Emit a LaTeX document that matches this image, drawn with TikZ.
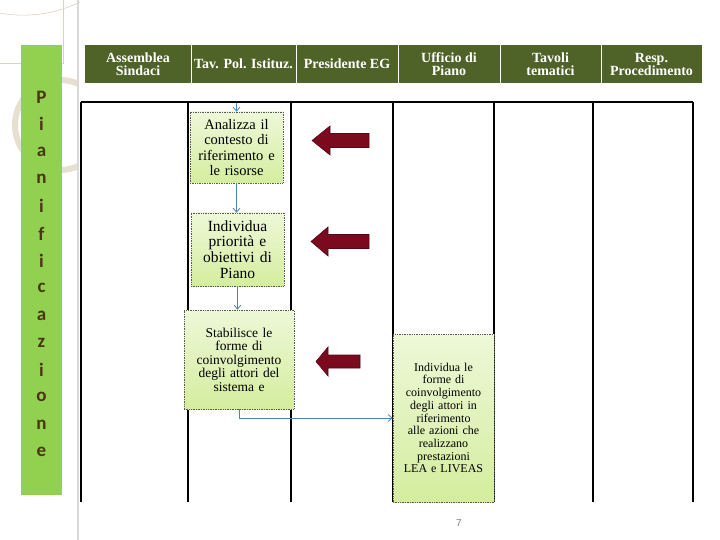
\documentclass[tikz,border=0pt]{standalone}
\usepackage{fontspec}
\setmainfont{Liberation Serif}
\newfontfamily\lettersfont{Carlito}
\newfontfamily\pagefont{Liberation Sans}
\usetikzlibrary{arrows.meta}
\definecolor{hdr}{HTML}{4F6228}
\definecolor{barg}{HTML}{92D050}
\definecolor{lettc}{HTML}{4A3512}
\definecolor{flowc}{HTML}{4F81BD}
\definecolor{maroonc}{HTML}{7B0A1E}
\definecolor{beigec}{HTML}{DDD3BC}
\definecolor{boxtop}{HTML}{EEF8D8}
\definecolor{boxbot}{HTML}{D4ED9E}
\tikzset{
  hdrtext/.style={text=white, font=\bfseries\fontsize{14}{13}\selectfont, align=center, inner sep=0pt},
  greenbox/.style={draw=black!65, densely dotted, line width=0.7pt, top color=boxtop, bottom color=boxbot,
    align=center, inner sep=0pt, text=black},
  flowline/.style={draw=flowc, line width=0.8pt, -{Straight Barb[length=4pt,width=7pt]}},
  tableline/.style={draw=black, line width=1.1pt},
  blockarrow/.style={fill=maroonc, draw=maroonc!70!black, line width=0.6pt},
  letter/.style={text=lettc, font=\lettersfont\bfseries\fontsize{19}{20}\selectfont, inner sep=0pt}
}
\begin{document}
\begin{tikzpicture}[x=1pt,y=-1pt]
\useasboundingbox (0,0) rectangle (720,540);
\fill[white] (0,0) rectangle (720,540);
% decoration
\draw[beigec, line width=0.6pt] (0,63) -- (63,63) -- (63,0);
\draw[beigec, line width=0.6pt] (80,2) arc[start angle=64, end angle=130, radius=130];
\begin{scope}
  \clip (0,0) rectangle (77,540);
  \draw[beigec!70, line width=6pt] (60,125) circle[radius=45];
\end{scope}
\draw[black!15, line width=2pt] (77.5,0) -- (77.5,540);
% vertical bar
\node (bar) [fill=barg, minimum width=41pt, minimum height=450pt, inner sep=0pt] at (41.5,270) {};
\foreach \ch [count=\i from 0] in {P,i,a,n,i,f,i,c,a,z,i,o,n,e} {
  \node[letter] (l\i) at (41.5,{97+27.3*\i}) {\ch};
}
% header
\fill[hdr] (85,45) rectangle (702,83);
\foreach \xx in {191,296,398,500,601} {
  \draw[white, line width=1pt] (\xx,45) -- (\xx,83);
}
\node[hdrtext] (h1) at (138,64) {Assemblea\\Sindaci};
\node[hdrtext] (h2) at (243.5,64) {Tav. Pol. Istituz.};
\node[hdrtext] (h3) at (347,64) {Presidente EG};
\node[hdrtext] (h4) at (449,64) {Ufficio di\\Piano};
\node[hdrtext] (h5) at (550.5,64) {Tavoli\\tematici};
\node[hdrtext] (h6) at (651.5,64) {Resp.\\Procedimento};
% table
\draw[tableline] (81,102) -- (693,102);
\foreach \xx in {81,188,291,393,494,593,693} {
  \draw[tableline] (\xx,102) -- (\xx,502);
}
% boxes
\node[greenbox, minimum width=93pt, minimum height=71pt, text width=92pt,
  font=\fontsize{14.5}{15.5}\selectfont] (b1) at (236.5,147.5)
  {Analizza il\\contesto di\\riferimento e\\le risorse};
\node[greenbox, minimum width=93pt, minimum height=73pt, text width=92pt,
  font=\fontsize{15.5}{15.7}\selectfont] (b2) at (237.5,249.5)
  {Individua\\priorità e\\obiettivi di\\Piano};
\node[greenbox, minimum width=110pt, minimum height=99pt, text width=108pt,
  font=\fontsize{13.5}{13.5}\selectfont] (b3) at (239,359.5)
  {Stabilisce le\\forme di\\coinvolgimento\\degli attori del\\sistema e};
\node[greenbox, minimum width=101pt, minimum height=168pt, text width=100pt,
  font=\fontsize{12}{12.7}\selectfont] (b4) at (443.5,418)
  {Individua le\\forme di\\coinvolgimento\\degli attori in\\riferimento\\alle azioni che\\realizzano\\prestazioni\\LEA e LIVEAS};
% connectors
\coordinate (start) at (236.5,103);
\draw[flowline] (start) -- (b1.north);
\draw[flowline] (b1.south) -- (b1.south |- b2.north);
\draw[flowline] (b2.south) -- (b2.south |- b3.north);
\draw[flowline] (b3.south) |- (b4.west);
% block arrows
\draw[blockarrow] (312,140.5) -- (330,126) -- (330,133.5) -- (369,133.5) -- (369,147.5) -- (330,147.5) -- (330,155) -- cycle;
\draw[blockarrow] (311,241.5) -- (328,227) -- (328,234.5) -- (369,234.5) -- (369,248.5) -- (328,248.5) -- (328,256) -- cycle;
\draw[blockarrow] (316,361.5) -- (328,347) -- (328,355) -- (360,355) -- (360,368) -- (328,368) -- (328,376) -- cycle;
% page number
\node[text=black!50, font=\pagefont\fontsize{10}{12}\selectfont, inner sep=0pt] (pg) at (459,523) {7};
\end{tikzpicture}
\end{document}
